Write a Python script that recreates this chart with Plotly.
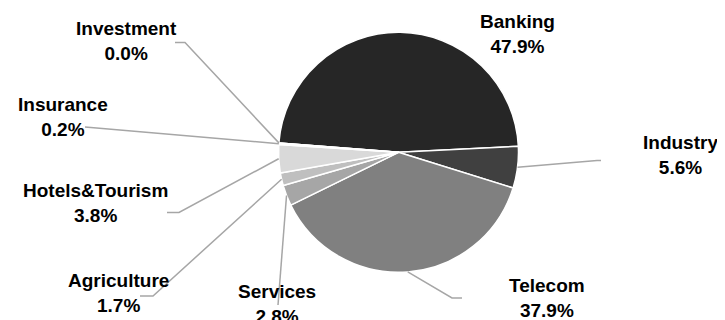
import math
import plotly.graph_objects as go

# ---- data ----
sectors = ["Banking", "Industry", "Telecom", "Services", "Agriculture",
           "Hotels&Tourism", "Insurance", "Investment"]
shares = [47.9, 5.6, 37.9, 2.8, 1.7, 3.8, 0.2, 0.0]

# ---- styles / layout ----
colors = ["#262626", "#404040", "#808080", "#a6a6a6", "#bfbfbf",
          "#d9d9d9", "#f2f2f2", "#ffffff"]
PAGE_OFF = 8           # browser default body margin
W, H = 725 - PAGE_OFF, 320 - PAGE_OFF
CX, CY, R = 398.5, 152.3, 120   # in page pixels
ROT = 274.5  # start angle of first slice, clockwise from 12 o'clock

# label block centers (page pixels) and elbow points for leader lines
label_pos = {
    "Banking": (517.5, 33.5),
    "Industry": (680.5, 155),
    "Telecom": (547, 298),
    "Services": (277, 303.5),
    "Agriculture": (119, 292.5),
    "Hotels&Tourism": (95.5, 203),
    "Insurance": (63.5, 116.5),
    "Investment": (126, 41),
}
elbows = {
    "Industry": [(597, 160.5), (601, 160.5)],
    "Telecom": [(452, 298), (462, 298)],
    "Services": [(278, 305)],
    "Agriculture": [(153, 296), (140, 296)],
    "Hotels&Tourism": [(179, 212.5), (167, 212.5)],
    "Insurance": [(85, 127)],
    "Investment": [(185, 42.5), (175, 42.5)],
}


def px(x):
    return (x - PAGE_OFF) / W


def py(y):
    return 1 - (y - PAGE_OFF) / H


fig = go.Figure(go.Pie(
    labels=sectors,
    values=shares,
    sort=False,
    direction="clockwise",
    rotation=ROT,
    marker=dict(colors=colors, line=dict(color="white", width=1.5)),
    textinfo="none",
    hoverinfo="skip",
    showlegend=False,
    domain=dict(x=[px(CX - R), px(CX + R)], y=[py(CY + R), py(CY - R)]),
))

total = sum(shares)
cum = 0.0
shapes = []
annotations = []
for name, v in zip(sectors, shares):
    mid = ROT + (cum + v / 2) / total * 360.0
    cum += v
    a = math.radians(mid)
    sx = CX + R * math.sin(a)
    sy = CY - R * math.cos(a)
    if name in elbows:
        pts = [(sx, sy)] + elbows[name]
        path = "M " + " L ".join(f"{px(x):.5f},{py(y):.5f}" for x, y in pts)
        shapes.append(dict(type="path", path=path, xref="paper", yref="paper",
                           line=dict(color="#a6a6a6", width=1.5), layer="above"))
    lx, ly = label_pos[name]
    annotations.append(dict(
        x=px(lx), y=py(ly), xref="paper", yref="paper",
        text=f"<b>{name}</b><br><b>{v:.1f}%</b>",
        showarrow=False, xanchor="center", yanchor="middle",
        align="center",
        font=dict(family="Liberation Sans, Arial, sans-serif", size=19, color="#000000"),
    ))

fig.update_layout(
    width=W, height=H,
    margin=dict(l=0, r=0, t=0, b=0),
    paper_bgcolor="white",
    plot_bgcolor="white",
    shapes=shapes,
    annotations=annotations,
)

fig.write_html("out.html")
